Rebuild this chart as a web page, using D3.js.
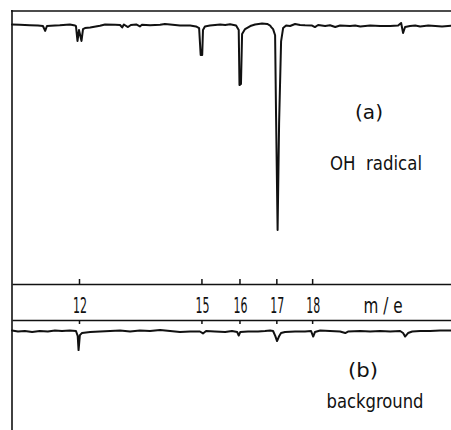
<!DOCTYPE html>
<html>
<head>
<meta charset="utf-8">
<script src="https://cdn.jsdelivr.net/npm/d3@7"></script>
<style>
  html, body { margin: 0; padding: 0; background: #fff; }
  svg { display: block; }
  .trace { fill: none; stroke: #111; stroke-width: 2; stroke-linejoin: round; stroke-linecap: round; }
  .frame { stroke: #111; stroke-width: 1.6; }
  .axis path, .axis line { stroke: #111; stroke-width: 1.5; }
  .label { font-family: "DejaVu Sans Condensed", "Liberation Sans Narrow", sans-serif; fill: #111; }
</style>
</head>
<body>
<div id="chart"></div>
<script>
// m/e tick positions and labels
const massTicks = [12, 15, 16, 17, 18];
const tickLabels = ["12", "15", "16", "17", "18"];

// (a) OH radical trace: m/e and downward deflection (relative, m/e 17 peak = 100)
const ohMass = [10.50, 10.67, 10.89, 11.07, 11.18, 11.23, 11.27, 11.45, 11.56, 11.79, 11.91, 11.93, 11.965, 12.0, 12.058, 12.093, 12.139,
  12.26, 12.49, 12.61, 12.85, 12.97, 13.02, 13.06, 13.16, 13.23, 13.36, 13.45, 13.50, 13.70, 13.95, 14.07, 14.20, 14.45, 14.71,
  14.86, 14.94, 14.98, 15.02, 15.04, 15.09, 15.22, 15.49, 15.62, 15.75, 15.91, 15.98, 16.00, 16.04, 16.07, 16.15, 16.29, 16.42,
  16.61, 16.75, 16.83, 16.86, 16.911, 16.966, 16.993, 17.035, 17.076, 17.131, 17.187, 17.27, 17.38, 17.52, 17.66, 17.80, 18.00, 18.08, 18.17,
  18.37, 18.51, 18.66, 18.80, 19.09, 19.24, 19.39, 19.68, 19.98, 20.28, 20.52, 20.61, 20.67, 20.73, 20.88, 21.04, 21.19, 21.44,
  21.66, 21.87, 22.15];
const ohSignal = [-0.25, -0.1, 0.1, 0.25, 0.5, 2.9, 0.5, 0.25, 0.15, -0.25, 0.25, 0.5, 7.8, 2.4, 7.8, 2.0, 1.5,
  1.2, 0.4, -0.25, -0.1, 0, 1.2, -0.25, 1.0, 0, -0.25, 0.7, -0.1, 0.15, -0.1, -0.5, -0.25, 0.25, 0.25,
  0.7, 1.5, 14.6, 14.6, 2.4, 0.7, 0.25, -0.25, 0, -0.35, 0.25, 2.4, 29.3, 28.8, 4.4, 2.0, 0.5, -0.25,
  -0.7, -0.5, 0.25, 1.0, 2.0, 5, 45, 100, 48, 8, 1.5, 0.25, 0.5, -0.5, 0, 0.15, 0.25, 1.0, 0,
  0.5, 0.1, 1.0, 0.25, 0.5, 0.25, 0.7, 0.25, 0.5, 0.5, 0.25, -1.0, 3.9, 1.0, 0.5, 0.25, 0.7, 0.25,
  0.5, 0.7, 0.4];

// (b) background trace, same units
const bgMass = [10.50, 10.63, 10.78, 10.94, 11.11, 11.29, 11.45, 11.61, 11.79, 11.93, 11.97, 11.99, 12.02, 12.07, 12.26, 12.49,
  12.73, 12.97, 13.21, 13.45, 13.70, 13.95, 14.20, 14.45, 14.71, 14.96, 15.04, 15.12, 15.35, 15.62, 15.80, 15.94, 15.98, 16.02,
  16.23, 16.50, 16.69, 16.83, 16.91, 16.97, 17.02, 17.08, 17.13, 17.24, 17.52, 17.80, 17.97, 18.03, 18.08, 18.23, 18.51, 18.80,
  18.95, 19.03, 19.39, 19.68, 19.98, 20.28, 20.58, 20.67, 20.73, 20.82, 20.95, 21.19, 21.50, 21.81, 22.15];
const bgSignal = [-0.25, 0.25, 0, 0.5, 0, 0.25, -0.25, 0, -0.25, 0, 2.4, 9.3, 2.0, 1.0, 0.5, 0.25,
  0, -0.25, 0.25, -0.25, 0, -0.5, 0, 0.5, 0.25, 0.25, 1.2, 0, 0.25, 0.5, 0, 0.5, 2.2, 0.5,
  0.25, 0.25, 0, -0.25, 0, 2.4, 4.9, 2.4, 1.0, 0.5, 0.25, 0.25, 0, 2.7, 0.5, -0.25, 0, 0.25,
  1.0, 0.25, 0, 0.25, 0, 0.25, 0, 1.0, 2.7, 1.0, 0.25, 0, 0, -0.25, -0.25];

const width = 451;
const height = 430;

const svg = d3.select("#chart").append("svg")
  .attr("width", width)
  .attr("height", height)
  .attr("viewBox", `0 0 ${width} ${height}`);

// magnetic sector: position goes with sqrt(m/e)
const x = d3.scaleSqrt().domain([10.5, 22.15]).range([12, width]);
const yOH = d3.scaleLinear().domain([0, 100]).range([25, 230]);
const yBg = d3.scaleLinear().domain([0, 100]).range([331, 536]);

// frame
svg.append("line").attr("class", "frame")
  .attr("x1", 12).attr("x2", 12).attr("y1", 10).attr("y2", height);
svg.append("line").attr("class", "frame")
  .attr("x1", 11).attr("x2", width).attr("y1", 11).attr("y2", 11);

// m/e scale band
const topAxis = d3.axisTop(x).tickValues(massTicks).tickSize(5).tickSizeOuter(0).tickFormat("");
const bottomAxis = d3.axisBottom(x).tickValues(massTicks).tickSize(4).tickSizeOuter(0).tickFormat("");

svg.append("g").attr("class", "axis").attr("transform", "translate(0,284)").call(topAxis);
svg.append("g").attr("class", "axis").attr("transform", "translate(0,320)").call(bottomAxis);

svg.append("g").selectAll("text")
  .data(massTicks)
  .join("text")
  .attr("class", "label")
  .attr("text-anchor", "middle")
  .attr("font-size", 22)
  .attr("x", (d) => x(d) + 1)
  .attr("y", 313)
  .attr("textLength", 14)
  .attr("lengthAdjust", "spacingAndGlyphs")
  .text((d, i) => tickLabels[i]);

svg.append("text").attr("class", "label")
  .attr("text-anchor", "middle")
  .attr("font-size", 22)
  .attr("x", 383)
  .attr("y", 313)
  .attr("textLength", 39)
  .attr("lengthAdjust", "spacingAndGlyphs")
  .attr("xml:space", "preserve")
  .text("m / e");

// traces
const ohLine = d3.line()
  .x((d, i) => x(ohMass[i]))
  .y((d) => yOH(d));

const bgLine = d3.line()
  .x((d, i) => x(bgMass[i]))
  .y((d) => yBg(d));

svg.append("path").attr("class", "trace").datum(ohSignal).attr("d", ohLine);
svg.append("path").attr("class", "trace").datum(bgSignal).attr("d", bgLine);

// annotations
const notes = [
  { text: "(a)", x: 369, y: 119, w: 28 },
  { text: "OH  radical", x: 376, y: 170, w: 92 },
  { text: "(b)", x: 363, y: 377, w: 30 },
  { text: "background", x: 375, y: 408, w: 97 }
];

svg.append("g").selectAll("text")
  .data(notes)
  .join("text")
  .attr("class", "label")
  .attr("text-anchor", "middle")
  .attr("font-size", 20)
  .attr("xml:space", "preserve")
  .attr("x", (d) => d.x)
  .attr("y", (d) => d.y)
  .attr("textLength", (d) => d.w)
  .attr("lengthAdjust", "spacingAndGlyphs")
  .text((d) => d.text);
</script>
</body>
</html>
